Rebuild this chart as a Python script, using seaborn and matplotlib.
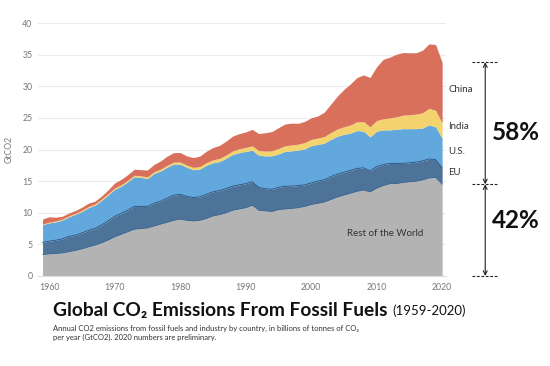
import numpy as np
import pandas as pd
import matplotlib
matplotlib.use("Agg")
import matplotlib.pyplot as plt
import seaborn as sns

# ------------------------------------
# Data (GtCO2)
# ------------------------------------
years = list(range(1959, 2021))

rest_of_world = [
    3.40, 3.50, 3.55, 3.65, 3.85, 4.05, 4.30, 4.60, 4.90, 5.25,
    5.70, 6.20, 6.60, 7.00, 7.40, 7.50, 7.60, 7.90, 8.20, 8.50,
    8.80, 9.00, 8.80, 8.70, 8.80, 9.10, 9.50, 9.70, 10.00, 10.40,
    10.60, 10.80, 11.20, 10.40, 10.30, 10.20, 10.50, 10.60, 10.70, 10.80,
    11.00, 11.30, 11.50, 11.70, 12.10, 12.50, 12.80, 13.10, 13.40, 13.60,
    13.30, 13.90, 14.30, 14.60, 14.60, 14.80, 14.90, 15.00, 15.20, 15.50,
    15.60, 14.50,
]
eu = [
    1.90, 2.00, 2.10, 2.20, 2.40, 2.40, 2.50, 2.60, 2.60, 2.80,
    3.00, 3.20, 3.30, 3.40, 3.60, 3.50, 3.40, 3.60, 3.60, 3.80,
    4.00, 3.90, 3.80, 3.70, 3.70, 3.80, 3.80, 3.80, 3.80, 3.80,
    3.80, 3.80, 3.70, 3.60, 3.50, 3.50, 3.50, 3.60, 3.50, 3.50,
    3.40, 3.40, 3.50, 3.50, 3.60, 3.60, 3.60, 3.60, 3.60, 3.50,
    3.30, 3.40, 3.30, 3.20, 3.20, 3.00, 3.00, 3.00, 3.00, 3.00,
    2.80, 2.60,
]
us = [
    2.80, 2.90, 2.90, 3.00, 3.10, 3.30, 3.40, 3.60, 3.70, 3.90,
    4.10, 4.30, 4.30, 4.50, 4.70, 4.60, 4.40, 4.70, 4.80, 4.90,
    4.90, 4.80, 4.60, 4.40, 4.40, 4.60, 4.60, 4.60, 4.80, 5.00,
    5.10, 5.10, 5.00, 5.10, 5.20, 5.30, 5.30, 5.50, 5.60, 5.60,
    5.70, 5.90, 5.80, 5.80, 5.90, 6.00, 6.00, 5.90, 6.00, 5.80,
    5.40, 5.60, 5.50, 5.30, 5.40, 5.50, 5.40, 5.30, 5.20, 5.40,
    5.20, 4.70,
]
india = [
    0.10, 0.12, 0.13, 0.14, 0.15, 0.15, 0.17, 0.17, 0.18, 0.19,
    0.20, 0.20, 0.21, 0.22, 0.23, 0.24, 0.26, 0.27, 0.29, 0.29,
    0.31, 0.32, 0.35, 0.37, 0.40, 0.42, 0.46, 0.49, 0.52, 0.56,
    0.60, 0.63, 0.68, 0.72, 0.75, 0.79, 0.85, 0.88, 0.92, 0.94,
    0.99, 1.00, 1.00, 1.05, 1.08, 1.14, 1.20, 1.28, 1.38, 1.50,
    1.60, 1.68, 1.76, 1.90, 1.96, 2.13, 2.20, 2.30, 2.40, 2.60,
    2.60, 2.40,
]
china = [
    0.80, 0.85, 0.60, 0.45, 0.45, 0.45, 0.50, 0.55, 0.45, 0.50,
    0.60, 0.80, 0.87, 0.90, 0.95, 0.97, 1.10, 1.15, 1.30, 1.45,
    1.50, 1.50, 1.45, 1.55, 1.65, 1.80, 1.95, 2.05, 2.20, 2.35,
    2.40, 2.45, 2.60, 2.70, 2.90, 3.05, 3.30, 3.45, 3.45, 3.30,
    3.35, 3.40, 3.50, 3.85, 4.50, 5.20, 5.90, 6.50, 7.00, 7.40,
    7.80, 8.50, 9.40, 9.60, 9.90, 9.90, 9.80, 9.70, 9.90, 10.20,
    10.40, 9.60,
]

series_names = ["Rest of the World", "EU", "U.S.", "India", "China"]
series_colors = ["#b3b3b3", "#4d7399", "#62a8dc", "#f3d36e", "#d8705b"]
y_ticks = [0, 5, 10, 15, 20, 25, 30, 35, 40]
x_ticks = [1960, 1970, 1980, 1990, 2000, 2010, 2020]
share_labels = ["58%", "42%"]

df = pd.DataFrame({
    "year": years,
    "Rest of the World": rest_of_world,
    "EU": eu,
    "U.S.": us,
    "India": india,
    "China": china,
})

# ------------------------------------
# Style
# ------------------------------------
sns.set_theme(style="whitegrid")
plt.rcParams["font.family"] = ["Lato", "DejaVu Sans"]

fig = plt.figure(figsize=(5.5, 3.66), dpi=100)
ax = fig.add_axes([0.069, 0.246, 0.742, 0.691])

# ------------------------------------
# Stacked areas
# ------------------------------------
bottom = np.zeros(len(df))
tops = {}
for name, color in zip(series_names, series_colors):
    top = bottom + df[name].values
    ax.fill_between(df["year"], bottom, top, color=color, linewidth=0, zorder=2)
    tops[name] = top
    bottom = top

# thin darker edges on the blue layers
stack_df = pd.DataFrame({"year": years, "eu_top": tops["EU"], "row_top": tops["Rest of the World"]})
sns.lineplot(data=stack_df, x="year", y="eu_top", color="#2f5a86", linewidth=0.7, ax=ax, zorder=3)
sns.lineplot(data=stack_df, x="year", y="row_top", color="#3f6790", linewidth=0.5, ax=ax, zorder=3)

ax.set_xlim(1958.3, 2020.6)
ax.set_ylim(0, 40)
ax.set_yticks(y_ticks)
ax.set_xticks(x_ticks)
ax.grid(axis="x", visible=False)
ax.grid(axis="y", color="#ececec", linewidth=0.8)
for side in ["top", "right", "left"]:
    ax.spines[side].set_visible(False)
ax.spines["bottom"].set_color("#dddddd")
ax.spines["bottom"].set_linewidth(0.8)
ax.tick_params(axis="both", labelsize=6.3, colors="#777777", length=0, pad=4)
ax.tick_params(axis="x", length=3, color="#dddddd", pad=2)
ax.set_xlabel("")
ax.set_ylabel("GtCO2", fontsize=6.3, color="#777777", labelpad=6)

# ------------------------------------
# Series labels
# ------------------------------------
last = len(df) - 1
label_y = {
    "China": (tops["India"][last] + tops["China"][last]) / 2 + 0.5,
    "India": (tops["U.S."][last] + tops["India"][last]) / 2 + 0.6,
    "U.S.": (tops["EU"][last] + tops["U.S."][last]) / 2 + 0.3,
    "EU": (tops["Rest of the World"][last] + tops["EU"][last]) / 2 + 0.5,
}
for name, yv in label_y.items():
    ax.text(1.005, yv, name, transform=ax.get_yaxis_transform(), fontsize=7,
            color="#333333", va="center", ha="left")
ax.text(2011.3, 6.7, "Rest of the World", fontsize=7, color="#333333",
        ha="center", va="center", zorder=4)

# ------------------------------------
# Share annotation
# ------------------------------------
trans = ax.get_yaxis_transform()
total_2020 = tops["China"][last]
row_2020 = tops["Rest of the World"][last]
for yv in [0, row_2020, total_2020]:
    ax.plot([1.064, 1.127], [yv, yv], transform=trans, color="#222222",
            linewidth=0.8, linestyle=(0, (2.5, 1.5)), clip_on=False)
for y0, y1 in [(row_2020, total_2020), (0, row_2020)]:
    ax.annotate("", xy=(1.096, y1), xytext=(1.096, y0), xycoords=trans,
                textcoords=trans,
                arrowprops=dict(arrowstyle="<->", color="#222222", lw=0.8,
                                shrinkA=0, shrinkB=0, mutation_scale=7))
ax.text(1.113, (row_2020 + total_2020) / 2 - 1.4, share_labels[0], transform=trans,
        fontsize=17.5, fontweight="bold", color="#111111", ha="left", va="center")
ax.text(1.113, row_2020 / 2 + 1.5, share_labels[1], transform=trans,
        fontsize=17.5, fontweight="bold", color="#111111", ha="left", va="center")

# ------------------------------------
# Title and note
# ------------------------------------
title = fig.text(0.096, 0.153, "Global CO\u2082 Emissions From Fossil Fuels", fontsize=13.8,
                 fontweight="bold", color="#111111", ha="left", va="center")
fig.canvas.draw()
tb = title.get_window_extent()
fig.text(tb.x1 / fig.bbox.width + 0.009, 0.150, "(1959-2020)", fontsize=9.5,
         color="#111111", ha="left", va="center")
fig.text(0.096, 0.090,
         "Annual CO2 emissions from fossil fuels and industry by country, in billions of tonnes of CO\u2082\n"
         "per year (GtCO2). 2020 numbers are preliminary.",
         fontsize=5.5, color="#333333", ha="left", va="center", linespacing=1.3)

plt.savefig("out.png", dpi=100)
plt.close()
